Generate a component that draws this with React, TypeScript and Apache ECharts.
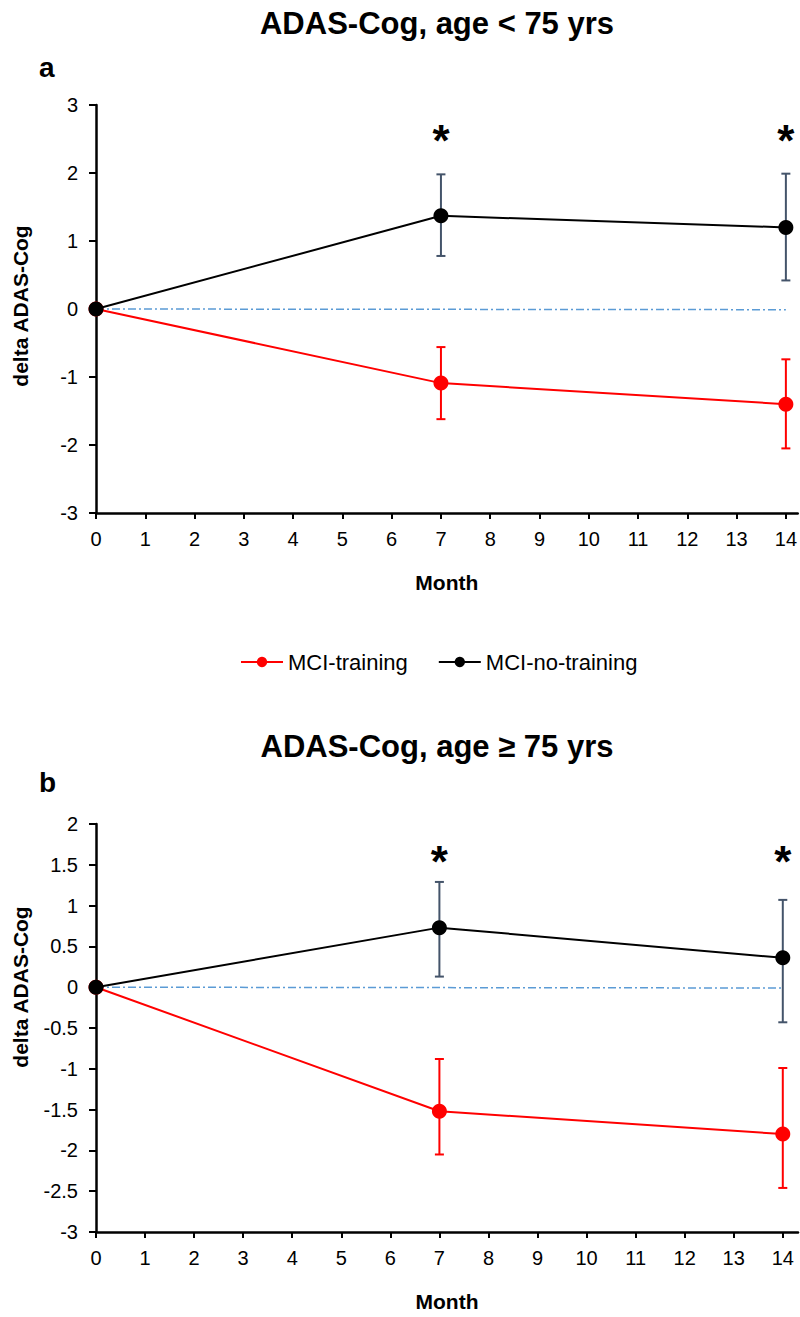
import React, { useEffect, useRef } from "react";
import * as echarts from "echarts";

const months = [0, 7, 14];
const tickMonths = [0, 1, 2, 3, 4, 5, 6, 7, 8, 9, 10, 11, 12, 13, 14];

// Panel a: age < 75
const trainingA = [0, -1.09, -1.4];
const trainingAUp = [0, 0.53, 0.66];
const trainingADown = [0, 0.53, 0.65];
const noTrainingA = [0, 1.37, 1.2];
const noTrainingAUp = [0, 0.61, 0.79];
const noTrainingADown = [0, 0.59, 0.78];
const refMonths = [0, 14];
const refA = [0, -0.01];
const starMonths = [7, 14];
const starA = [2.6, 2.6];

// Panel b: age >= 75
const trainingB = [0, -1.52, -1.8];
const trainingBUp = [0, 0.64, 0.81];
const trainingBDown = [0, 0.53, 0.66];
const noTrainingB = [0, 0.73, 0.36];
const noTrainingBUp = [0, 0.56, 0.71];
const noTrainingBDown = [0, 0.6, 0.79];
const refB = [0, -0.01];
const starB = [1.64, 1.64];

const FONT = "'Liberation Sans', Arial, sans-serif";
const RED = "#ff0000";
const BLACK = "#000000";
const BAR_DARK = "#44546a";
const REF_BLUE = "#5b9bd5";

function pairs(xs: number[], ys: number[]) {
  return xs.map((x, i) => [x, ys[i]]);
}

function errData(vals: number[], up: number[], down: number[]) {
  const out: number[][] = [];
  months.forEach((m, i) => {
    if (up[i] > 0 || down[i] > 0) out.push([m, vals[i] - down[i], vals[i] + up[i]]);
  });
  return out;
}

function errSeries(idx: number, data: number[][], color: string) {
  return {
    type: "custom",
    xAxisIndex: idx,
    yAxisIndex: idx,
    z: 2,
    silent: true,
    encode: { x: 0, y: [1, 2] },
    data,
    renderItem: (params: any, api: any) => {
      const x = api.value(0);
      const lo = api.coord([x, api.value(1)]);
      const hi = api.coord([x, api.value(2)]);
      const w = 4.5;
      const style = { stroke: color, lineWidth: 2 };
      return {
        type: "group",
        children: [
          { type: "line", shape: { x1: hi[0], y1: hi[1], x2: lo[0], y2: lo[1] }, style },
          { type: "line", shape: { x1: hi[0] - w, y1: hi[1], x2: hi[0] + w, y2: hi[1] }, style },
          { type: "line", shape: { x1: lo[0] - w, y1: lo[1], x2: lo[0] + w, y2: lo[1] }, style },
        ],
      };
    },
  };
}

function lineSeries(idx: number, name: string, ys: number[], color: string, z: number) {
  return {
    type: "line",
    name,
    xAxisIndex: idx,
    yAxisIndex: idx,
    data: pairs(months, ys),
    symbol: "circle",
    symbolSize: 15,
    z,
    lineStyle: { color, width: 2 },
    itemStyle: { color },
  };
}

function refSeries(idx: number, ys: number[]) {
  return {
    type: "line",
    xAxisIndex: idx,
    yAxisIndex: idx,
    data: pairs(refMonths, ys),
    symbol: "none",
    silent: true,
    z: 1,
    lineStyle: { color: REF_BLUE, width: 1.5, type: [8, 3, 2, 3] },
  };
}

function starSeries(idx: number, ys: number[]) {
  return {
    type: "custom",
    xAxisIndex: idx,
    yAxisIndex: idx,
    data: pairs(starMonths, ys),
    encode: { x: 0, y: 1 },
    silent: true,
    z: 5,
    renderItem: (params: any, api: any) => {
      const p = api.coord([api.value(0), api.value(1)]);
      return {
        type: "text",
        x: p[0],
        y: p[1] + 8,
        style: {
          text: "*",
          fill: "#000",
          font: `bold 44px ${FONT}`,
          textAlign: "center",
          textVerticalAlign: "middle",
        },
      };
    },
  };
}

function xAxis(idx: number, max: number) {
  return {
    type: "value",
    gridIndex: idx,
    min: 0,
    max,
    interval: 1,
    name: "Month",
    nameLocation: "middle",
    nameGap: 59,
    nameTextStyle: { fontFamily: FONT, fontWeight: "bold", fontSize: 21, color: "#000" },
    splitLine: { show: false },
    axisLine: { onZero: false, lineStyle: { color: "#000", width: 2.5 } },
    axisTick: { show: true, customValues: tickMonths, length: 6, lineStyle: { color: "#000", width: 2 } },
    axisLabel: { customValues: tickMonths, margin: 16, fontFamily: FONT, fontSize: 20, color: "#000" },
  };
}

function yAxis(idx: number, min: number, max: number, interval: number) {
  return {
    type: "value",
    gridIndex: idx,
    min,
    max,
    interval,
    splitLine: { show: false },
    axisLine: { show: true, onZero: false, lineStyle: { color: "#000", width: 2.5 } },
    axisTick: { show: true, length: 7, lineStyle: { color: "#000", width: 2 } },
    axisLabel: { margin: 18, fontFamily: FONT, fontSize: 20, color: "#000" },
  };
}

export default function App() {
  const ref = useRef<HTMLDivElement>(null);
  useEffect(() => {
    document.body.style.margin = "0";
    const chart = echarts.init(ref.current!, undefined, { renderer: "svg" });
    const titleStyle = { font: `bold 31px ${FONT}`, fill: "#000", textAlign: "center", textVerticalAlign: "middle" };
    const letterStyle = { font: `bold 28px ${FONT}`, fill: "#000", textAlign: "left", textVerticalAlign: "middle" };
    const yNameStyle = { font: `bold 21px ${FONT}`, fill: "#000", textAlign: "center", textVerticalAlign: "middle" };
    chart.setOption({
      animation: false,
      backgroundColor: "#fff",
      grid: [
        { left: 96, top: 105, width: 702, height: 408 },
        { left: 96, top: 824, width: 702, height: 408 },
      ],
      xAxis: [xAxis(0, 14.24), xAxis(1, 14.31)],
      yAxis: [yAxis(0, -3, 3, 1), yAxis(1, -3, 2, 0.5)],
      legend: {
        data: ["MCI-training", "MCI-no-training"],
        left: 235,
        top: 646,
        itemWidth: 42,
        itemHeight: 13,
        itemGap: 30,
        textStyle: { fontFamily: FONT, fontSize: 22, color: "#000" },
      },
      graphic: [
        { type: "text", x: 437, y: 23, style: { text: "ADAS-Cog, age < 75 yrs", ...titleStyle } },
        { type: "text", x: 39, y: 67, style: { text: "a", ...letterStyle } },
        { type: "text", x: 20, y: 306, rotation: Math.PI / 2, style: { text: "delta ADAS-Cog", ...yNameStyle } },
        { type: "text", x: 437, y: 746, style: { text: "ADAS-Cog, age \u2265 75 yrs", ...titleStyle } },
        { type: "text", x: 39, y: 782, style: { text: "b", ...letterStyle } },
        { type: "text", x: 20, y: 987, rotation: Math.PI / 2, style: { text: "delta ADAS-Cog", ...yNameStyle } },
      ],
      series: [
        refSeries(0, refA),
        errSeries(0, errData(trainingA, trainingAUp, trainingADown), RED),
        errSeries(0, errData(noTrainingA, noTrainingAUp, noTrainingADown), BAR_DARK),
        lineSeries(0, "MCI-training", trainingA, RED, 3),
        lineSeries(0, "MCI-no-training", noTrainingA, BLACK, 4),
        starSeries(0, starA),
        refSeries(1, refB),
        errSeries(1, errData(trainingB, trainingBUp, trainingBDown), RED),
        errSeries(1, errData(noTrainingB, noTrainingBUp, noTrainingBDown), BAR_DARK),
        lineSeries(1, "MCI-training", trainingB, RED, 3),
        lineSeries(1, "MCI-no-training", noTrainingB, BLACK, 4),
        starSeries(1, starB),
      ],
    });
    return () => chart.dispose();
  }, []);
  return <div ref={ref} style={{ width: 800, height: 1317 }} />;
}
